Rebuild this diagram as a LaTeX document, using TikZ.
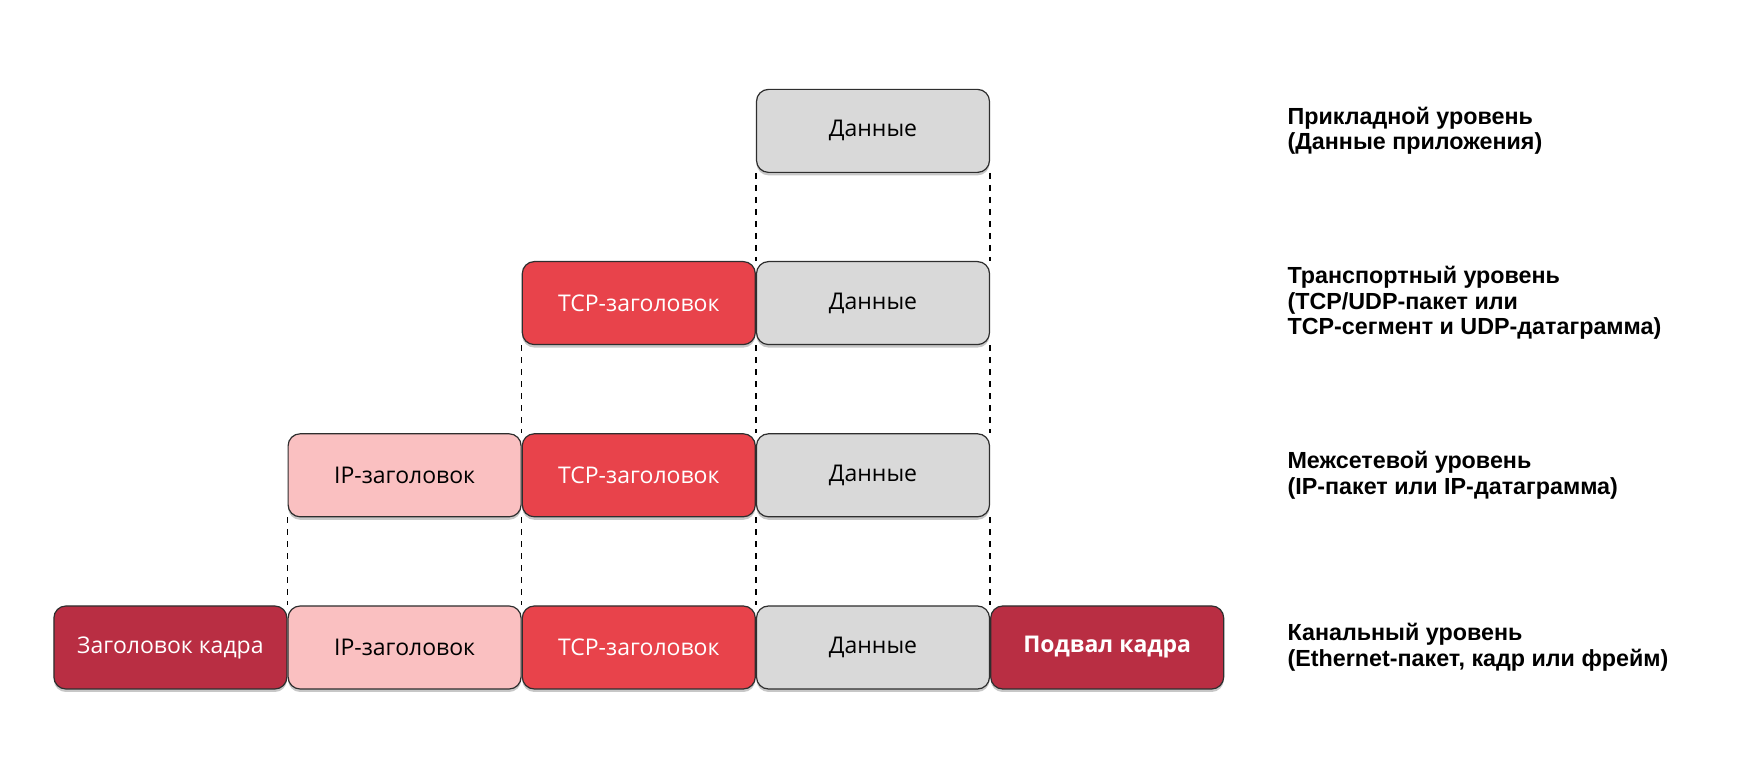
\documentclass[tikz,border=0pt]{standalone}
\usepackage{fontspec}
\setmainfont{Liberation Sans}
\newfontfamily\boxfont{Open Sans}
\usetikzlibrary{positioning,shadows}

\definecolor{datagray}{HTML}{D9D9D9}
\definecolor{tcpred}{HTML}{E8434B}
\definecolor{framered}{HTML}{B92E43}
\definecolor{ippink}{HTML}{FAC0C1}
\definecolor{edgegray}{HTML}{2E2E2E}

\tikzset{
  pkt/.style={draw=edgegray, line width=1.2pt, rounded corners=12pt,
    minimum width=233pt, minimum height=83pt, inner sep=0pt,
    font=\boxfont\fontsize{23}{26}\selectfont,
    drop shadow={shadow xshift=0pt, shadow yshift=-3pt, opacity=0.22, fill=black}},
  databox/.style={pkt, fill=datagray, text=black},
  tcpbox/.style={pkt, fill=tcpred, text=white},
  ipbox/.style={pkt, fill=ippink, text=black},
  framebox/.style={pkt, fill=framered, text=white},
  layer/.style={anchor=west, align=left, text=black,
    font=\bfseries\fontsize{23.3}{25.5}\selectfont},
  guide/.style={dash pattern=on 6pt off 6pt, line width=1.3pt, black}
}

\begin{document}
\begin{tikzpicture}[x=1pt,y=1pt]
   \useasboundingbox (0,0) rectangle (1760,781);

   % link layer
   \node[databox] (d4) at (873,133.5) {Данные};
   \node[tcpbox, left=0pt of d4] (tcp4) {TCP-заголовок};
   \node[ipbox, left=0pt of tcp4] (ip4) {IP-заголовок};
   \node[framebox, left=0pt of ip4] (fh4) {Заголовок кадра};
   \node[framebox, right=0pt of d4, font=\boxfont\bfseries\fontsize{23}{26}\selectfont] (ft4) {Подвал кадра};

   % internet layer
   \node[databox, above=88pt of d4] (d3) {Данные};
   \node[tcpbox, left=0pt of d3] (tcp3) {TCP-заголовок};
   \node[ipbox, left=0pt of tcp3] (ip3) {IP-заголовок};

   % transport layer
   \node[databox, above=88pt of d3] (d2) {Данные};
   \node[tcpbox, left=0pt of d2] (tcp2) {TCP-заголовок};

   % application layer
   \node[databox, above=88pt of d2] (d1) {Данные};

   \draw[guide] (d1.south west) -- (d2.north west);
   \draw[guide] (d1.south east) -- (d2.north east);

   \draw[guide] (tcp2.south west) -- (tcp3.north west);
   \draw[guide] (d2.south west) -- (d3.north west);
   \draw[guide] (d2.south east) -- (d3.north east);

   \draw[guide] (ip3.south west) -- (ip4.north west);
   \draw[guide] (tcp3.south west) -- (tcp4.north west);
   \draw[guide] (d3.south west) -- (d4.north west);
   \draw[guide] (d3.south east) -- (d4.north east);

   \coordinate (lx) at (1284,0);
   \node[layer] (l1) at (lx |- d1) {Прикладной уровень\\(Данные приложения)};
   \node[layer] (l2) at (lx |- d2) {Транспортный уровень\\(TCP/UDP-пакет или\\TCP-сегмент и UDP-датаграмма)};
   \node[layer] (l3) at (lx |- d3) {Межсетевой уровень\\(IP-пакет или IP-датаграмма)};
   \node[layer] (l4) at (lx |- d4) {Канальный уровень\\(Ethernet-пакет, кадр или фрейм)};
\end{tikzpicture}
\end{document}
